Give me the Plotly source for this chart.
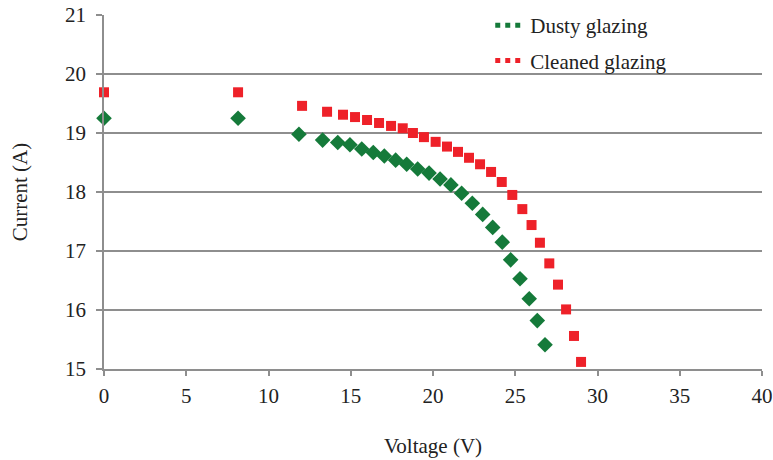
import plotly.graph_objects as go

# Dusty glazing
dusty_v = [0, 8.15, 11.85, 13.29, 14.21, 14.95, 15.67, 16.37, 17.04, 17.73, 18.40, 19.07, 19.76,
           20.43, 21.09, 21.74, 22.39, 23.02, 23.63, 24.21, 24.72, 25.29, 25.85, 26.34, 26.81]
dusty_i = [19.25, 19.25, 18.98, 18.88, 18.84, 18.80, 18.73, 18.67, 18.61, 18.54, 18.47, 18.39, 18.32,
           18.22, 18.12, 17.98, 17.81, 17.62, 17.40, 17.15, 16.85, 16.53, 16.19, 15.82, 15.41]

# Cleaned glazing
clean_v = [0, 8.15, 12.04, 13.56, 14.53, 15.26, 15.99, 16.72, 17.45, 18.16, 18.78, 19.45, 20.16, 20.85,
           21.52, 22.19, 22.86, 23.53, 24.18, 24.82, 25.43, 25.99, 26.50, 27.07, 27.60, 28.09, 28.57, 29.0]
clean_i = [19.69, 19.69, 19.46, 19.36, 19.31, 19.27, 19.22, 19.17, 19.12, 19.08, 19.00, 18.93, 18.85, 18.77,
           18.68, 18.58, 18.47, 18.34, 18.17, 17.95, 17.71, 17.44, 17.14, 16.79, 16.43, 16.01, 15.56, 15.12]

series_names = ["Dusty glazing", "Cleaned glazing"]
x_ticks = [0, 5, 10, 15, 20, 25, 30, 35, 40]
y_ticks = [15, 16, 17, 18, 19, 20, 21]

GREEN = "#157a3a"
RED = "#ee2129"
GRID = "#8e8e8e"
FONT = "Liberation Serif"
FS = 21

fig = go.Figure()
fig.add_trace(go.Scatter(x=dusty_v, y=dusty_i, mode="markers", showlegend=False, cliponaxis=False,
                         marker=dict(symbol="diamond", size=12, color=GREEN)))
fig.add_trace(go.Scatter(x=clean_v, y=clean_i, mode="markers", showlegend=False, cliponaxis=False,
                         marker=dict(symbol="square", size=10, color=RED)))
# legend entries (dotted line style)
fig.add_trace(go.Scatter(x=[None], y=[None], mode="lines", name=series_names[0], legendgroup="a",
                         line=dict(color=GREEN, width=5, dash="dot")))
fig.add_trace(go.Scatter(x=[None], y=[None], mode="lines", name=series_names[1], legendgroup="b",
                         line=dict(color=RED, width=5, dash="dot")))

fig.update_layout(
    width=773, height=460,
    margin=dict(l=104, r=11, t=15, b=91, autoexpand=False),
    paper_bgcolor="white", plot_bgcolor="white",
    font=dict(family=FONT, size=FS, color="#222222"),
    legend=dict(x=0.587, y=1.028, xanchor="left", yanchor="top", bgcolor="rgba(0,0,0,0)",
                font=dict(family=FONT, size=FS, color="#222222"), tracegroupgap=5,
                itemwidth=30),
    xaxis=dict(range=[0, 40], tickvals=x_ticks, showgrid=False, zeroline=False, automargin=False,
               showline=True, linecolor=GRID, linewidth=1.5,
               ticks="outside", ticklen=5, tickcolor=GRID, tickwidth=1.5, ticklabelstandoff=2,
               tickfont=dict(family=FONT, size=FS),
               title=dict(text="Voltage (V)", font=dict(family=FONT, size=FS), standoff=31)),
    yaxis=dict(range=[15, 21], tickvals=y_ticks, showgrid=True, gridcolor=GRID, gridwidth=1.5,
               zeroline=False, showline=True, linecolor=GRID, linewidth=1.5, automargin=False,
               ticks="outside", ticklen=6, tickcolor=GRID, tickwidth=1.5, ticklabelstandoff=6,
               tickfont=dict(family=FONT, size=FS),
               title=dict(text="Current (A)", font=dict(family=FONT, size=FS), standoff=32)),
)

fig.write_html("out.html")
